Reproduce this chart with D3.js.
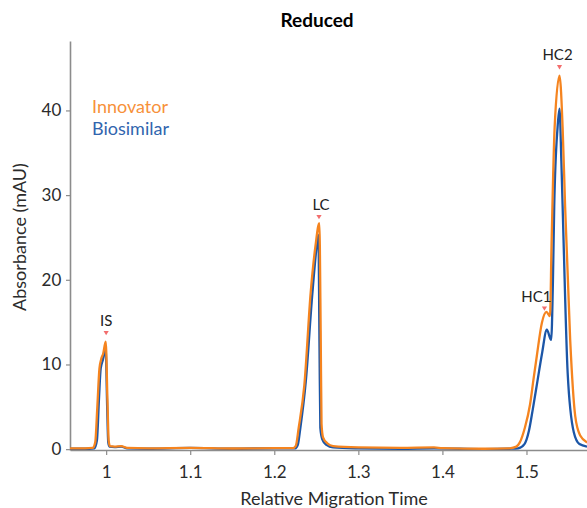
<!DOCTYPE html>
<html>
<head>
<meta charset="utf-8">
<script src="https://cdn.jsdelivr.net/npm/d3@7"></script>
<style>
  body { margin: 0; background: #fff; }
  svg { display: block; font-family: Lato, "Open Sans", sans-serif; }
</style>
</head>
<body>
<svg id="chart" width="587" height="508"></svg>
<script>
// relative migration time vs absorbance (mAU)
const innovatorX = [0.957, 0.975, 0.984, 0.987, 0.9895, 0.992, 0.994, 0.9965, 0.9995, 1.0015, 1.003, 1.0045, 1.01, 1.018, 1.025, 1.05, 1.1, 1.15, 1.2, 1.222,
	1.2256, 1.229, 1.2357, 1.2433, 1.249, 1.2536, 1.2552, 1.2562, 1.258, 1.263, 1.27, 1.3, 1.35, 1.39, 1.4, 1.45, 1.48, 1.488,
	1.4921, 1.498, 1.5043, 1.5083, 1.5123, 1.5183, 1.5238, 1.528, 1.5298, 1.5335, 1.5393, 1.543, 1.546, 1.552, 1.558, 1.5639, 1.572];
const innovatorY = [0.1, 0.1, 0.15, 0.8, 5, 9.5, 10.6, 11.3, 12.7, 6, 1.0, 0.35, 0.3, 0.35, 0.15, 0.1, 0.15, 0.08, 0.12, 0.12,
	0.4, 2.5, 7.5, 18.5, 24, 26.7, 14, 3, 1.4, 0.7, 0.35, 0.2, 0.15, 0.2, 0.12, 0.05, 0.1, 0.3,
	0.8, 2.5, 5.3, 8.2, 11, 14.9, 16.2, 15.7, 24, 38, 44.1, 38, 28.6, 12.9, 3.9, 1.6, 0.8];

const biosimilarX = [0.957, 0.98, 0.986, 0.989, 0.9915, 0.9935, 0.996, 0.9995, 1.0012, 1.0025, 1.004, 1.01, 1.018, 1.025, 1.05, 1.1, 1.15, 1.2, 1.225,
	1.228, 1.231, 1.2375, 1.245, 1.2505, 1.2525, 1.2538, 1.2548, 1.257, 1.262, 1.27, 1.3, 1.35, 1.39, 1.45, 1.48, 1.49,
	1.4976, 1.503, 1.5075, 1.513, 1.5185, 1.5242, 1.5294, 1.5315, 1.533, 1.537, 1.5393, 1.5415, 1.5441, 1.549, 1.5563, 1.563, 1.572];
const biosimilarY = [0.05, 0.05, 0.1, 1, 6, 9.5, 10.5, 11.8, 5, 0.8, 0.3, 0.25, 0.3, 0.1, 0.05, 0.15, 0.05, 0.1, 0.1,
	0.5, 2.5, 8, 18, 24, 25.3, 12, 2.5, 1.2, 0.5, 0.2, 0.1, 0.05, 0.1, 0.0, 0.05, 0.1,
	0.6, 2.2, 4.7, 8, 11.3, 14.1, 12.9, 20, 28.6, 38, 40.2, 34, 24.7, 9, 2, 0.6, 0.3];

const peakLabels = ['IS', 'LC', 'HC1', 'HC2'];
const peakX = [1.0, 1.2532, 1.5214, 1.5393];
const peakY = [13.7, 27.4, 16.6, 45.1];

const xTicks = [1, 1.1, 1.2, 1.3, 1.4, 1.5];
const yTicks = [0, 10, 20, 30, 40];

const seriesNames = ['Biosimilar', 'Innovator'];
const legendOrder = ['Innovator', 'Biosimilar'];
const colors = { Innovator: '#f5841f', Biosimilar: '#1c56a7' };
const legendColors = { Innovator: '#f7913a', Biosimilar: '#3165ae' };

const svg = d3.select('#chart');
const margin = { top: 41, right: 0, bottom: 58, left: 70 };
const width = Number(svg.attr('width'));
const height = Number(svg.attr('height'));

const x = d3.scaleLinear().domain([0.957, 1.572]).range([margin.left, width - margin.right]);
const y = d3.scaleLinear().domain([-0.1, 48.2]).range([height - margin.bottom, margin.top]);

const series = {
	Innovator: innovatorX.map((d, i) => [d, innovatorY[i]]),
	Biosimilar: biosimilarX.map((d, i) => [d, biosimilarY[i]]),
};

const axisColor = '#8c8c8c';

// axes
const xAxis = svg.append('g')
	.attr('transform', `translate(0,${height - margin.bottom})`)
	.call(d3.axisBottom(x).tickValues(xTicks).tickSize(5).tickSizeOuter(0).tickFormat(d3.format('')));
const yAxis = svg.append('g')
	.attr('transform', `translate(${margin.left},0)`)
	.call(d3.axisLeft(y).tickValues(yTicks).tickSize(4).tickSizeOuter(0));

[xAxis, yAxis].forEach(g => {
	g.select('.domain').attr('stroke', axisColor).attr('stroke-width', 1.6);
	g.selectAll('.tick line').attr('stroke', axisColor).attr('stroke-width', 1.2);
	g.selectAll('.tick text')
		.attr('fill', '#2b2b2b')
		.style('font-size', '17px')
		.style('font-family', 'Lato, sans-serif');
});
xAxis.selectAll('.tick text').attr('dy', '1.2em');
yAxis.selectAll('.tick text').attr('dx', '-0.1em');

// traces
const line = d3.line()
	.x(d => x(d[0]))
	.y(d => y(d[1]))
	.curve(d3.curveMonotoneX);

svg.append('defs').append('clipPath').attr('id', 'plot-clip')
	.append('rect')
		.attr('x', margin.left)
		.attr('y', margin.top - 10)
		.attr('width', width - margin.left - margin.right)
		.attr('height', height - margin.bottom - margin.top + 10);

svg.append('g')
	.attr('clip-path', 'url(#plot-clip)')
	.selectAll('path')
	.data(seriesNames)
	.enter().append('path')
		.attr('d', name => line(series[name]))
		.attr('fill', 'none')
		.attr('stroke', name => colors[name])
		.attr('stroke-width', 2.3)
		.attr('stroke-linejoin', 'round');

// peak markers
const peaks = peakLabels.map((label, i) => ({ label, x: peakX[i], y: peakY[i] }));
const labelAnchor = { HC1: 'end' };
const labelShift = { HC1: 7, HC2: -2, LC: 2 };

const mark = svg.append('g').selectAll('g')
	.data(peaks)
	.enter().append('g')
		.attr('transform', d => `translate(${x(d.x)},${y(d.y)})`);

mark.append('path')
	.attr('d', 'M-2.6,-2.2L2.6,-2.2L0,2.2Z')
	.attr('fill', '#f26d6d');

mark.append('text')
	.attr('x', d => labelShift[d.label] || 0)
	.attr('y', -7)
	.attr('text-anchor', d => labelAnchor[d.label] || 'middle')
	.attr('fill', '#222')
	.style('font-size', '15px')
	.text(d => d.label);

// legend
svg.append('g').selectAll('text')
	.data(legendOrder)
	.enter().append('text')
		.attr('x', 92)
		.attr('y', (d, i) => 113 + i * 22)
		.attr('fill', d => legendColors[d])
		.style('font-size', '18px')
		.text(d => d);

// titles
svg.append('text')
	.attr('x', 317)
	.attr('y', 27)
	.attr('text-anchor', 'middle')
	.attr('fill', '#000')
	.style('font-size', '19px')
	.style('font-weight', 'bold')
	.text('Reduced');

svg.append('text')
	.attr('x', 334)
	.attr('y', 505)
	.attr('text-anchor', 'middle')
	.attr('fill', '#2b2b2b')
	.style('font-size', '18px')
	.text('Relative Migration Time');

svg.append('text')
	.attr('transform', 'translate(26,237) rotate(-90)')
	.attr('text-anchor', 'middle')
	.attr('fill', '#2b2b2b')
	.style('font-size', '18px')
	.text('Absorbance (mAU)');
</script>
</body>
</html>
